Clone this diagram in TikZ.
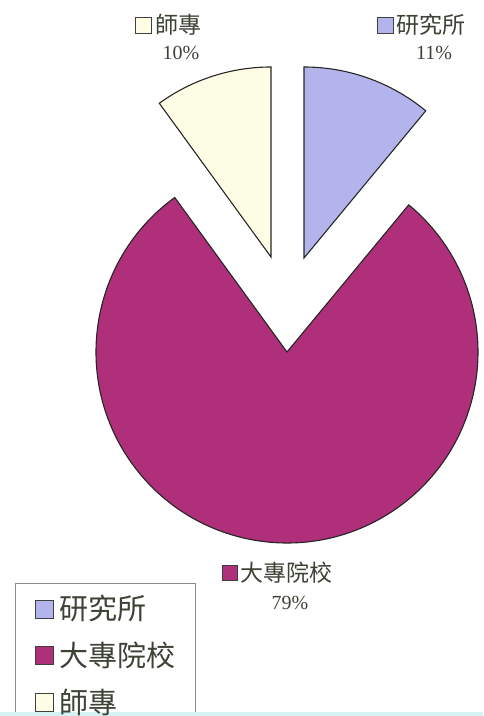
\documentclass[tikz,border=0pt]{standalone}
\usepackage{fontspec}
\setmainfont{Liberation Serif}
\newfontfamily\cjk{Noto Sans CJK TC}
\usetikzlibrary{positioning}

\definecolor{lavender}{HTML}{B4B4EC}
\definecolor{plum}{HTML}{AF2F7A}
\definecolor{cream}{HTML}{FDFDE6}
\definecolor{labeltext}{HTML}{3C4234}
\definecolor{strip}{HTML}{D6F3F3}

\begin{document}
\begin{tikzpicture}[
		x=1pt, y=1pt,
		line width=0.7pt,
		every node/.style={text=labeltext},
		slice/.style={draw=black!85, line width=1.1pt, line join=miter},
		keybox/.style={draw=black!75, line width=0.7pt, minimum size=15pt, inner sep=0pt},
		desc/.style={font=\cjk\fontsize{23}{25}\selectfont, inner sep=0pt},
		pct/.style={font=\fontsize{20}{22}\selectfont, inner sep=0pt},
		leg text/.style={font=\cjk\fontsize{29}{31}\selectfont, inner sep=0pt}
		]
	
	\useasboundingbox (0, 0) rectangle (483, 716);
	
	% Bottom strip
	\fill[strip] (0, 0) rectangle (483, 4);
	
	% Slices
	\coordinate (c-univ) at (287, 364);
	\coordinate (c-inst) at (304, 458);
	\coordinate (c-norm) at (271, 459);
	\draw[slice, fill=plum] (c-univ) -- ++(126:191) arc[start angle=126, end angle=410.4, radius=191] -- cycle;
	\draw[slice, fill=lavender] (c-inst) -- ++(50.4:191) arc[start angle=50.4, end angle=90, radius=191] -- cycle;
	\draw[slice, fill=cream] (c-norm) -- ++(90:190) arc[start angle=90, end angle=126, radius=190] -- cycle;
	
	% Slice labels
	\node[keybox, fill=cream, minimum size=16pt] (k-norm) at (143.5, 691) {};
	\node[desc, right=3pt of k-norm] (d-norm) {師專};
	\node[pct] (p-norm) at (181, 663) {10\%};
	
	\node[keybox, fill=lavender, minimum size=16pt] (k-inst) at (385, 691) {};
	\node[desc, right=3pt of k-inst] (d-inst) {研究所};
	\node[pct] (p-inst) at (434, 663) {11\%};
	
	\node[keybox, fill=plum] (k-univ) at (229.5, 143) {};
	\node[desc, right=3pt of k-univ] (d-univ) {大專院校};
	\node[pct] (p-univ) at (290, 113) {79\%};
	
	% Legend
	\draw[black!45, line width=0.8pt] (15, 4) -- (15, 133) -- (195, 133) -- (195, 4);
	\foreach \y/\col/\name in {107/lavender/研究所, 61/plum/大專院校, 14/cream/師專}{
		\node[keybox, fill=\col, minimum size=18pt] (leg-k\y) at (44, \y) {};
		\node[leg text, right=6pt of leg-k\y] (leg-t\y) {\name};
	}
	
\end{tikzpicture}
\end{document}
